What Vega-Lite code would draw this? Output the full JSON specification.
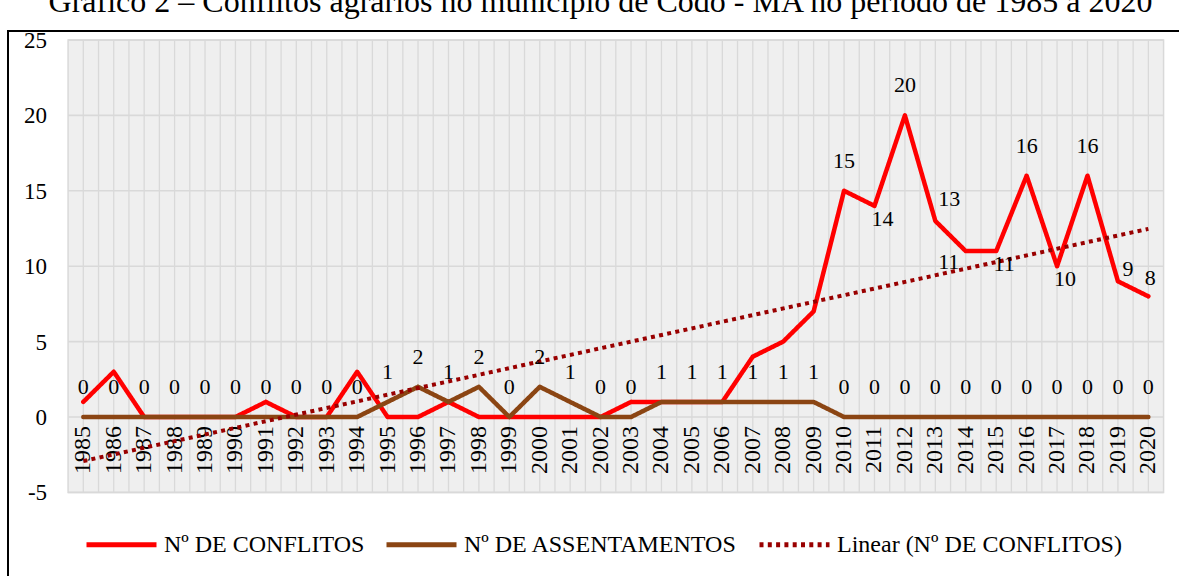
{
  "$schema": "https://vega.github.io/schema/vega-lite/v6.json",
  "width": 1175,
  "height": 555,
  "autosize": {"type": "none"},
  "padding": {"left": 8, "top": 31, "right": 0, "bottom": 0},
  "title": {
    "text": "Gráfico 2 – Conflitos agrários no município de Codó - MA no período de 1985 a 2020",
    "font": "Liberation Serif", "fontSize": 32, "fontWeight": "normal", "color": "#000",
    "offset": 11.3, "anchor": "middle", "dx": 5
  },
  "config": {
    "view": {"stroke": "#000", "strokeWidth": 2},
    "font": "Liberation Serif",
    "text": {"font": "Liberation Serif", "fontSize": 22, "fill": "#000"}
  },
  "datasets": {
    "d": [
      {"ano": 1985, "Nº DE CONFLITOS": 1, "Nº DE ASSENTAMENTOS": 0},
      {"ano": 1986, "Nº DE CONFLITOS": 3, "Nº DE ASSENTAMENTOS": 0},
      {"ano": 1987, "Nº DE CONFLITOS": 0, "Nº DE ASSENTAMENTOS": 0},
      {"ano": 1988, "Nº DE CONFLITOS": 0, "Nº DE ASSENTAMENTOS": 0},
      {"ano": 1989, "Nº DE CONFLITOS": 0, "Nº DE ASSENTAMENTOS": 0},
      {"ano": 1990, "Nº DE CONFLITOS": 0, "Nº DE ASSENTAMENTOS": 0},
      {"ano": 1991, "Nº DE CONFLITOS": 1, "Nº DE ASSENTAMENTOS": 0},
      {"ano": 1992, "Nº DE CONFLITOS": 0, "Nº DE ASSENTAMENTOS": 0},
      {"ano": 1993, "Nº DE CONFLITOS": 0, "Nº DE ASSENTAMENTOS": 0},
      {"ano": 1994, "Nº DE CONFLITOS": 3, "Nº DE ASSENTAMENTOS": 0},
      {"ano": 1995, "Nº DE CONFLITOS": 0, "Nº DE ASSENTAMENTOS": 1},
      {"ano": 1996, "Nº DE CONFLITOS": 0, "Nº DE ASSENTAMENTOS": 2},
      {"ano": 1997, "Nº DE CONFLITOS": 1, "Nº DE ASSENTAMENTOS": 1},
      {"ano": 1998, "Nº DE CONFLITOS": 0, "Nº DE ASSENTAMENTOS": 2},
      {"ano": 1999, "Nº DE CONFLITOS": 0, "Nº DE ASSENTAMENTOS": 0},
      {"ano": 2000, "Nº DE CONFLITOS": 0, "Nº DE ASSENTAMENTOS": 2},
      {"ano": 2001, "Nº DE CONFLITOS": 0, "Nº DE ASSENTAMENTOS": 1},
      {"ano": 2002, "Nº DE CONFLITOS": 0, "Nº DE ASSENTAMENTOS": 0},
      {"ano": 2003, "Nº DE CONFLITOS": 1, "Nº DE ASSENTAMENTOS": 0},
      {"ano": 2004, "Nº DE CONFLITOS": 1, "Nº DE ASSENTAMENTOS": 1},
      {"ano": 2005, "Nº DE CONFLITOS": 1, "Nº DE ASSENTAMENTOS": 1},
      {"ano": 2006, "Nº DE CONFLITOS": 1, "Nº DE ASSENTAMENTOS": 1},
      {"ano": 2007, "Nº DE CONFLITOS": 4, "Nº DE ASSENTAMENTOS": 1},
      {"ano": 2008, "Nº DE CONFLITOS": 5, "Nº DE ASSENTAMENTOS": 1},
      {"ano": 2009, "Nº DE CONFLITOS": 7, "Nº DE ASSENTAMENTOS": 1},
      {"ano": 2010, "Nº DE CONFLITOS": 15, "Nº DE ASSENTAMENTOS": 0},
      {"ano": 2011, "Nº DE CONFLITOS": 14, "Nº DE ASSENTAMENTOS": 0},
      {"ano": 2012, "Nº DE CONFLITOS": 20, "Nº DE ASSENTAMENTOS": 0},
      {"ano": 2013, "Nº DE CONFLITOS": 13, "Nº DE ASSENTAMENTOS": 0},
      {"ano": 2014, "Nº DE CONFLITOS": 11, "Nº DE ASSENTAMENTOS": 0},
      {"ano": 2015, "Nº DE CONFLITOS": 11, "Nº DE ASSENTAMENTOS": 0},
      {"ano": 2016, "Nº DE CONFLITOS": 16, "Nº DE ASSENTAMENTOS": 0},
      {"ano": 2017, "Nº DE CONFLITOS": 10, "Nº DE ASSENTAMENTOS": 0},
      {"ano": 2018, "Nº DE CONFLITOS": 16, "Nº DE ASSENTAMENTOS": 0},
      {"ano": 2019, "Nº DE CONFLITOS": 9, "Nº DE ASSENTAMENTOS": 0},
      {"ano": 2020, "Nº DE CONFLITOS": 8, "Nº DE ASSENTAMENTOS": 0}
    ],
    "vb": [
      {"g": 1985.5}, {"g": 1986.5}, {"g": 1987.5}, {"g": 1988.5}, {"g": 1989.5}, {"g": 1990.5},
      {"g": 1991.5}, {"g": 1992.5}, {"g": 1993.5}, {"g": 1994.5}, {"g": 1995.5}, {"g": 1996.5},
      {"g": 1997.5}, {"g": 1998.5}, {"g": 1999.5}, {"g": 2000.5}, {"g": 2001.5}, {"g": 2002.5},
      {"g": 2003.5}, {"g": 2004.5}, {"g": 2005.5}, {"g": 2006.5}, {"g": 2007.5}, {"g": 2008.5},
      {"g": 2009.5}, {"g": 2010.5}, {"g": 2011.5}, {"g": 2012.5}, {"g": 2013.5}, {"g": 2014.5},
      {"g": 2015.5}, {"g": 2016.5}, {"g": 2017.5}, {"g": 2018.5}, {"g": 2019.5}
    ],
    "hg": [{"g": -5}, {"g": 0}, {"g": 5}, {"g": 10}, {"g": 15}, {"g": 20}, {"g": 25}]
  },
  "data": {"name": "d"},
  "layer": [
    {
      "data": {"values": [{}]},
      "mark": {"type": "rect", "fill": "#efefef", "stroke": "#d9d9d9", "strokeWidth": 1.5},
      "encoding": {
        "x": {"datum": 1984.5, "type": "quantitative", "scale": {"domain": [1982.5255, 2021.1385], "nice": false, "zero": false}, "axis": null},
        "x2": {"datum": 2020.5},
        "y": {"datum": -5, "type": "quantitative", "scale": {"domain": [-11.207, 25.597], "nice": false, "zero": false}, "axis": null},
        "y2": {"datum": 25}
      }
    },
    {
      "mark": {"type": "rule", "color": "#d9d9d9", "strokeWidth": 1.3},
      "encoding": {
        "x": {"field": "ano", "type": "quantitative", "scale": {"domain": [1982.5255, 2021.1385], "nice": false, "zero": false}, "axis": null},
        "y": {"datum": -5, "type": "quantitative", "scale": {"domain": [-11.207, 25.597], "nice": false, "zero": false}, "axis": null},
        "y2": {"datum": 25}
      }
    },
    {
      "data": {"name": "vb"},
      "mark": {"type": "rule", "color": "#d9d9d9", "strokeWidth": 1.3},
      "encoding": {
        "x": {"field": "g", "type": "quantitative", "scale": {"domain": [1982.5255, 2021.1385], "nice": false, "zero": false}, "axis": null},
        "y": {"datum": -5, "type": "quantitative", "scale": {"domain": [-11.207, 25.597], "nice": false, "zero": false}, "axis": null},
        "y2": {"datum": 25}
      }
    },
    {
      "data": {"name": "hg"},
      "mark": {"type": "rule", "color": "#d9d9d9", "strokeWidth": 1.6},
      "encoding": {
        "y": {"field": "g", "type": "quantitative", "scale": {"domain": [-11.207, 25.597], "nice": false, "zero": false}, "axis": null},
        "x": {"datum": 1984.5, "type": "quantitative", "scale": {"domain": [1982.5255, 2021.1385], "nice": false, "zero": false}, "axis": null},
        "x2": {"datum": 2020.5}
      }
    },
    {
      "data": {"name": "hg"},
      "mark": {"type": "text", "align": "right", "baseline": "middle", "dx": -21, "dy": 1, "fontSize": 23},
      "encoding": {
        "y": {"field": "g", "type": "quantitative", "scale": {"domain": [-11.207, 25.597], "nice": false, "zero": false}, "axis": null},
        "x": {"datum": 1984.5, "type": "quantitative", "scale": {"domain": [1982.5255, 2021.1385], "nice": false, "zero": false}, "axis": null},
        "text": {"field": "g", "type": "nominal"}
      }
    },
    {
      "mark": {"type": "text", "angle": 270, "align": "right", "baseline": "middle", "dx": -9, "fontSize": 24},
      "encoding": {
        "x": {"field": "ano", "type": "quantitative", "scale": {"domain": [1982.5255, 2021.1385], "nice": false, "zero": false}, "axis": null},
        "y": {"datum": 0, "type": "quantitative", "scale": {"domain": [-11.207, 25.597], "nice": false, "zero": false}, "axis": null},
        "text": {"field": "ano", "type": "nominal"}
      }
    },
    {
      "transform": [
        {"fold": ["Nº DE CONFLITOS", "Nº DE ASSENTAMENTOS"], "as": ["s", "v"]},
        {"filter": "datum.s == 'Nº DE CONFLITOS'"}
      ],
      "mark": {"type": "line", "strokeWidth": 4.5, "strokeJoin": "round", "strokeCap": "round"},
      "encoding": {
        "x": {"field": "ano", "type": "quantitative", "scale": {"domain": [1982.5255, 2021.1385], "nice": false, "zero": false}, "axis": null},
        "y": {"field": "v", "type": "quantitative", "scale": {"domain": [-11.207, 25.597], "nice": false, "zero": false}, "axis": null},
        "color": {"field": "s", "type": "nominal",
          "scale": {"domain": ["Nº DE CONFLITOS", "Nº DE ASSENTAMENTOS", "Linear (Nº DE CONFLITOS)"], "range": ["#ff0000", "#8b4513", "#990000"]},
          "legend": {"title": null, "orient": "none", "legendX": 76, "legendY": 476, "direction": "horizontal", "symbolType": "stroke", "symbolSize": 4900, "symbolStrokeWidth": 5,
            "labelFont": "Liberation Serif", "labelFontSize": 24, "labelColor": "#000", "labelOffset": 5, "columnPadding": 11, "labelLimit": 600}},
        "strokeDash": {"field": "s", "type": "nominal",
          "scale": {"domain": ["Nº DE CONFLITOS", "Nº DE ASSENTAMENTOS", "Linear (Nº DE CONFLITOS)"], "range": [[1, 0], [1, 0], [4, 4.3]]},
          "legend": {"title": null, "orient": "none", "legendX": 76, "legendY": 476, "direction": "horizontal", "symbolType": "stroke", "symbolSize": 4900, "symbolStrokeWidth": 5,
            "labelFont": "Liberation Serif", "labelFontSize": 24, "labelColor": "#000", "labelOffset": 5, "columnPadding": 11, "labelLimit": 600}}
      }
    },
    {
      "transform": [
        {"fold": ["Nº DE CONFLITOS", "Nº DE ASSENTAMENTOS"], "as": ["s", "v"]},
        {"filter": "datum.s == 'Nº DE ASSENTAMENTOS'"}
      ],
      "mark": {"type": "line", "strokeWidth": 4.5, "strokeJoin": "round", "strokeCap": "round"},
      "encoding": {
        "x": {"field": "ano", "type": "quantitative", "scale": {"domain": [1982.5255, 2021.1385], "nice": false, "zero": false}, "axis": null},
        "y": {"field": "v", "type": "quantitative", "scale": {"domain": [-11.207, 25.597], "nice": false, "zero": false}, "axis": null},
        "color": {"field": "s", "type": "nominal"},
        "strokeDash": {"field": "s", "type": "nominal"}
      }
    },
    {
      "transform": [
        {"regression": "Nº DE CONFLITOS", "on": "ano", "as": ["ano", "Linear (Nº DE CONFLITOS)"]},
        {"fold": ["Linear (Nº DE CONFLITOS)"], "as": ["s", "v"]}
      ],
      "mark": {"type": "line", "strokeWidth": 4, "strokeCap": "butt"},
      "encoding": {
        "x": {"field": "ano", "type": "quantitative", "scale": {"domain": [1982.5255, 2021.1385], "nice": false, "zero": false}, "axis": null},
        "y": {"field": "v", "type": "quantitative", "scale": {"domain": [-11.207, 25.597], "nice": false, "zero": false}, "axis": null},
        "color": {"field": "s", "type": "nominal"},
        "strokeDash": {"field": "s", "type": "nominal"}
      }
    },
    {
      "mark": {"type": "text", "baseline": "middle", "dy": -30},
      "encoding": {
        "x": {"field": "ano", "type": "quantitative", "scale": {"domain": [1982.5255, 2021.1385], "nice": false, "zero": false}, "axis": null},
        "y": {"field": "Nº DE ASSENTAMENTOS", "type": "quantitative", "scale": {"domain": [-11.207, 25.597], "nice": false, "zero": false}, "axis": null},
        "text": {"field": "Nº DE ASSENTAMENTOS", "type": "quantitative"}
      }
    },
    {
      "transform": [{"filter": {"field": "ano", "oneOf": [2010, 2012, 2016, 2018]}}],
      "mark": {"type": "text", "baseline": "middle", "dy": -30},
      "encoding": {
        "x": {"field": "ano", "type": "quantitative", "scale": {"domain": [1982.5255, 2021.1385], "nice": false, "zero": false}, "axis": null},
        "y": {"field": "Nº DE CONFLITOS", "type": "quantitative", "scale": {"domain": [-11.207, 25.597], "nice": false, "zero": false}, "axis": null},
        "text": {"field": "Nº DE CONFLITOS", "type": "quantitative"}
      }
    },
    {
      "transform": [{"filter": {"field": "ano", "oneOf": [2011, 2015, 2017]}}],
      "mark": {"type": "text", "baseline": "middle", "dx": 8, "dy": 13},
      "encoding": {
        "x": {"field": "ano", "type": "quantitative", "scale": {"domain": [1982.5255, 2021.1385], "nice": false, "zero": false}, "axis": null},
        "y": {"field": "Nº DE CONFLITOS", "type": "quantitative", "scale": {"domain": [-11.207, 25.597], "nice": false, "zero": false}, "axis": null},
        "text": {"field": "Nº DE CONFLITOS", "type": "quantitative"}
      }
    },
    {
      "transform": [{"filter": {"field": "ano", "oneOf": [2013]}}],
      "mark": {"type": "text", "baseline": "middle", "dx": 14, "dy": -22},
      "encoding": {
        "x": {"field": "ano", "type": "quantitative", "scale": {"domain": [1982.5255, 2021.1385], "nice": false, "zero": false}, "axis": null},
        "y": {"field": "Nº DE CONFLITOS", "type": "quantitative", "scale": {"domain": [-11.207, 25.597], "nice": false, "zero": false}, "axis": null},
        "text": {"field": "Nº DE CONFLITOS", "type": "quantitative"}
      }
    },
    {
      "transform": [{"filter": {"field": "ano", "oneOf": [2014]}}],
      "mark": {"type": "text", "baseline": "middle", "dx": -17, "dy": 11},
      "encoding": {
        "x": {"field": "ano", "type": "quantitative", "scale": {"domain": [1982.5255, 2021.1385], "nice": false, "zero": false}, "axis": null},
        "y": {"field": "Nº DE CONFLITOS", "type": "quantitative", "scale": {"domain": [-11.207, 25.597], "nice": false, "zero": false}, "axis": null},
        "text": {"field": "Nº DE CONFLITOS", "type": "quantitative"}
      }
    },
    {
      "transform": [{"filter": {"field": "ano", "oneOf": [2019]}}],
      "mark": {"type": "text", "baseline": "middle", "dx": 10, "dy": -12},
      "encoding": {
        "x": {"field": "ano", "type": "quantitative", "scale": {"domain": [1982.5255, 2021.1385], "nice": false, "zero": false}, "axis": null},
        "y": {"field": "Nº DE CONFLITOS", "type": "quantitative", "scale": {"domain": [-11.207, 25.597], "nice": false, "zero": false}, "axis": null},
        "text": {"field": "Nº DE CONFLITOS", "type": "quantitative"}
      }
    },
    {
      "transform": [{"filter": {"field": "ano", "oneOf": [2020]}}],
      "mark": {"type": "text", "baseline": "middle", "dx": 2, "dy": -18},
      "encoding": {
        "x": {"field": "ano", "type": "quantitative", "scale": {"domain": [1982.5255, 2021.1385], "nice": false, "zero": false}, "axis": null},
        "y": {"field": "Nº DE CONFLITOS", "type": "quantitative", "scale": {"domain": [-11.207, 25.597], "nice": false, "zero": false}, "axis": null},
        "text": {"field": "Nº DE CONFLITOS", "type": "quantitative"}
      }
    }
  ]
}
